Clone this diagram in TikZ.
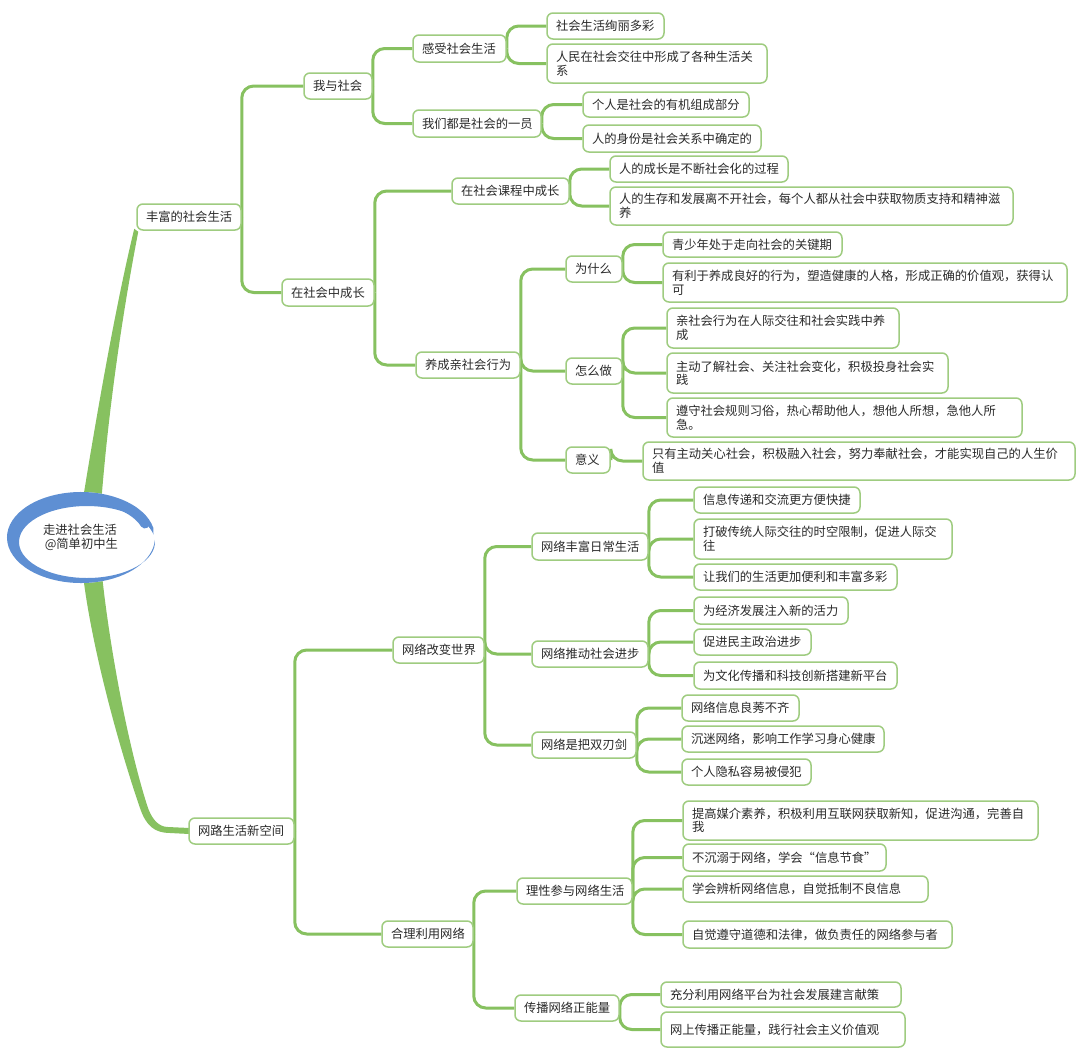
\documentclass[tikz,border=0pt]{standalone}
\usepackage{fontspec}
\setmainfont{Noto Sans CJK SC}
\usetikzlibrary{calc}
\pgfdeclarelayer{background}
\pgfsetlayers{background,main}
\definecolor{linegreen}{HTML}{87C160}
\definecolor{boxgreen}{HTML}{9FCC80}
\definecolor{rootblue}{HTML}{5E8FD3}
\definecolor{textgray}{HTML}{2A2A2A}
\tikzset{
  box/.style={draw=boxgreen, line width=1.5pt, rounded corners=6pt, fill=white,
    inner xsep=9pt, inner ysep=1pt, align=left,
    font=\fontsize{12.3}{13.5}\selectfont, text=textgray},
  conn/.style={draw=linegreen, line width=3pt, rounded corners=12pt},
  roottext/.style={align=center, font=\fontsize{12.3}{14}\selectfont, text=textgray, inner sep=0pt},
}
\newcommand\mmnode[6]{%
  \pgfmathsetmacro\mmtw{#4-#2-18}%
  \pgfmathsetmacro\mmbh{#5-#3}%
  \node[box, text width=\mmtw pt, minimum height=\mmbh pt] (#1) at ({(#2+#4)/2},{(#3+#5)/2}) {#6};}
\begin{document}
\begin{tikzpicture}[x=1pt,y=-1pt]
\useasboundingbox (0,0) rectangle (1080,1063);
% level 1
\mmnode{l1a}{137}{204}{241}{230}{丰富的社会生活}
\mmnode{l1b}{189}{818}{294}{844}{网路生活新空间}
% branch a
\mmnode{a1}{304}{73}{372}{99}{我与社会}
\mmnode{a2}{282}{279}{374}{306}{在社会中成长}
\mmnode{a11}{413}{35}{506}{62}{感受社会生活}
\mmnode{a12}{413}{110}{541}{137}{我们都是社会的一员}
\mmnode{a111}{547}{13}{664}{39}{社会生活绚丽多彩}
\mmnode{a112}{547}{44}{767}{83}{人民在社会交往中形成了各种生活关\\系}
\mmnode{a121}{583}{92}{749}{117}{个人是社会的有机组成部分}
\mmnode{a122}{583}{125}{761}{152}{人的身份是社会关系中确定的}
\mmnode{a21}{452}{178}{569}{204}{在社会课程中成长}
\mmnode{a22}{416}{352}{520}{378}{养成亲社会行为}
\mmnode{a211}{610}{156}{788}{182}{人的成长是不断社会化的过程}
\mmnode{a212}{610}{187}{1013}{225}{人的生存和发展离不开社会，每个人都从社会中获取物质支持和精神滋\\养}
\mmnode{a221}{566}{256}{622}{282}{为什么}
\mmnode{a222}{566}{358}{622}{384}{怎么做}
\mmnode{a223}{566}{447}{610}{473}{意义}
\mmnode{a2211}{663}{232}{842}{257}{青少年处于走向社会的关键期}
\mmnode{a2212}{663}{263}{1067}{302}{有利于养成良好的行为，塑造健康的人格，形成正确的价值观，获得认\\可}
\mmnode{a2221}{667}{308}{899}{348}{亲社会行为在人际交往和社会实践中养\\成}
\mmnode{a2222}{667}{353}{948}{393}{主动了解社会、关注社会变化，积极投身社会实\\践}
\mmnode{a2223}{667}{398}{1022}{437}{遵守社会规则习俗，热心帮助他人，想他人所想，急他人所\\急。}
\mmnode{a2231}{643}{442}{1075}{480}{只有主动关心社会，积极融入社会，努力奉献社会，才能实现自己的人生价\\值}
% branch b
\mmnode{b1}{393}{637}{484}{663}{网络改变世界}
\mmnode{b2}{382}{921}{473}{947}{合理利用网络}
\mmnode{b11}{532}{533}{648}{560}{网络丰富日常生活}
\mmnode{b12}{532}{641}{648}{667}{网络推动社会进步}
\mmnode{b13}{532}{732}{636}{758}{网络是把双刃剑}
\mmnode{b111}{694}{487}{860}{513}{信息传递和交流更方便快捷}
\mmnode{b112}{694}{519}{952}{559}{打破传统人际交往的时空限制，促进人际交\\往}
\mmnode{b113}{694}{564}{897}{590}{让我们的生活更加便利和丰富多彩}
\mmnode{b121}{694}{597}{848}{624}{为经济发展注入新的活力}
\mmnode{b122}{694}{629}{811}{655}{促进民主政治进步}
\mmnode{b123}{694}{662}{897}{689}{为文化传播和科技创新搭建新平台}
\mmnode{b131}{682}{695}{799}{721}{网络信息良莠不齐}
\mmnode{b132}{682}{726}{884}{752}{沉迷网络，影响工作学习身心健康}
\mmnode{b133}{682}{759}{811}{785}{个人隐私容易被侵犯}
\mmnode{b21}{517}{878}{632}{904}{理性参与网络生活}
\mmnode{b22}{515}{995}{619}{1021}{传播网络正能量}
\mmnode{b211}{683}{801}{1038}{840}{提高媒介素养，积极利用互联网获取新知，促进沟通，完善自\\我}
\mmnode{b212}{683}{844}{886}{871}{不沉溺于网络，学会“信息节食”}
\mmnode{b213}{683}{876}{928}{902}{学会辨析网络信息，自觉抵制不良信息}
\mmnode{b214}{683}{921}{952}{948}{自觉遵守道德和法律，做负责任的网络参与者}
\mmnode{b221}{661}{982}{901}{1007}{充分利用网络平台为社会发展建言献策}
\mmnode{b222}{661}{1012}{905}{1047}{网上传播正能量，践行社会主义价值观}
% root text
\node[roottext] (root) at (80,537) {走进社会生活\\\ @简单初中生};
\begin{pgfonlayer}{background}
\fill[white] (0,0) rectangle (1080,1063);
\foreach \p/\c in {l1a/a1,l1a/a2,a1/a11,a1/a12,a11/a111,a11/a112,a12/a121,a12/a122,
  a2/a21,a2/a22,a21/a211,a21/a212,a22/a221,a22/a222,a22/a223,
  a221/a2211,a221/a2212,a222/a2221,a222/a2222,a222/a2223,a223/a2231,
  l1b/b1,l1b/b2,b1/b11,b1/b12,b1/b13,b11/b111,b11/b112,b11/b113,
  b12/b121,b12/b122,b12/b123,b13/b131,b13/b132,b13/b133,
  b2/b21,b2/b22,b21/b211,b21/b212,b21/b213,b21/b214,b22/b221,b22/b222}
  {\draw[conn] (\p.east) |- (\c.west);}
% trunks from root
\coordinate (ut) at (l1a.south west);
\coordinate (lt) at (l1b.west);
\fill[linegreen] (82,505) .. controls (99,400) and (117,300) .. ($(ut)+(-2,-2)$)
  -- ($(ut)+(2,1)$) .. controls (125,300) and (109,400) .. (101,505) -- cycle;
\fill[linegreen] (83,575) .. controls (92,650) and (120,750) .. (140,808)
  .. controls (146,826) and (155,833) .. (170,833) -- ($(lt)+(1,3)$) -- ($(lt)+(1,-3)$)
  -- (168,827) .. controls (158,827) and (151,818) .. (147,805)
  .. controls (128,745) and (110,650) .. (102,575) -- cycle;
% root ellipse
\fill[white] (81,537.5) ellipse [x radius=74, y radius=45.5];
\fill[rootblue] ($(81,537.5)+(-12:74 and 45.5)$)
  arc[start angle=-12, end angle=-357, x radius=74, y radius=45.5]
  -- ($(87,542)+(-357:68 and 36)$)
  arc[start angle=-357, end angle=-12, x radius=68, y radius=36] -- cycle;
\draw[rootblue, line width=9pt, line cap=round] ($(81,537.5)+(-20:68 and 39.5)$)
  arc[start angle=-20, end angle=-140, x radius=68, y radius=39.5];
\end{pgfonlayer}
\end{tikzpicture}
\end{document}
